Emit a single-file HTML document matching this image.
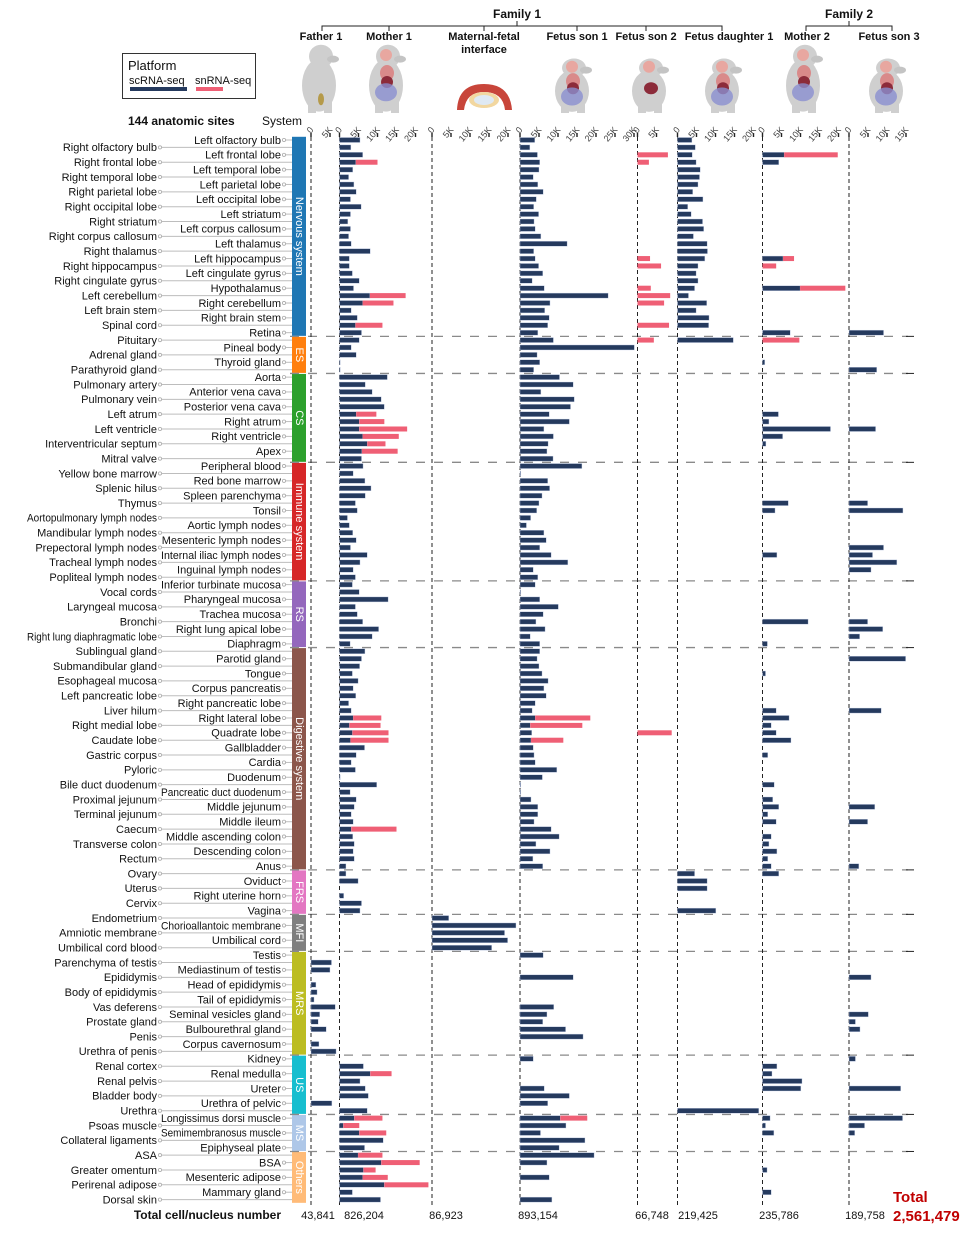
<!DOCTYPE html>
<html><head><meta charset="utf-8">
<style>
html,body{margin:0;padding:0;background:#fff;}
svg{display:block;font-family:"Liberation Sans",Arial,sans-serif;}
</style></head>
<body>
<svg id="chart" width="980" height="1241" viewBox="0 0 980 1241" xmlns="http://www.w3.org/2000/svg">
  <g font-weight="bold" font-size="11" text-anchor="middle" fill="#111">
    <text x="517" y="18" font-size="12">Family 1</text>
    <text x="849" y="18" font-size="12">Family 2</text>
    <path d="M322 31V26H722V31M389 26V31M484 26V31M577 26V31M646 26V31M517 26V21M806 31V26H892V31M849 26V21" fill="none" stroke="#222" stroke-width="1"/>
    <text x="321" y="40">Father 1</text>
    <text x="389" y="40">Mother 1</text>
    <text x="484" y="40">Maternal-fetal</text>
    <text x="484" y="53">interface</text>
    <text x="577" y="40">Fetus son 1</text>
    <text x="646" y="40">Fetus son 2</text>
    <text x="729" y="40">Fetus daughter 1</text>
    <text x="807" y="40">Mother 2</text>
    <text x="889" y="40">Fetus son 3</text>
  </g>
  <g id="animals"></g>
  <g>
    <rect x="122.5" y="53.5" width="133" height="45" fill="#fff" stroke="#333" stroke-width="1"/>
    <text x="128" y="70" font-size="13" fill="#111">Platform</text>
    <text x="129" y="84" font-size="11" fill="#111">scRNA-seq</text>
    <text x="195" y="84" font-size="11" fill="#111">snRNA-seq</text>
    <rect x="130" y="87" width="57" height="4" fill="#253a5e"/>
    <rect x="196" y="87" width="27" height="4" fill="#ef5f75"/>
  </g>
  <text x="128" y="125" font-size="12" font-weight="bold" fill="#111">144 anatomic sites</text>
  <text x="262" y="125" font-size="12" fill="#111">System</text>
  <g id="plot"></g>
  <g>
    <text x="281" y="1219" font-size="12" font-weight="bold" text-anchor="end" fill="#111">Total cell/nucleus number</text>
    <text x="893" y="1202" font-size="15" font-weight="bold" fill="#c00000">Total</text>
    <text x="893" y="1221" font-size="15" font-weight="bold" fill="#c00000">2,561,479</text>
  </g>
</svg>
<script>
const siteNames = ["Left olfactory bulb","Right olfactory bulb","Left frontal lobe","Right frontal lobe","Left temporal lobe","Right temporal lobe","Left parietal lobe","Right parietal lobe","Left occipital lobe","Right occipital lobe","Left striatum","Right striatum","Left corpus callosum","Right corpus callosum","Left thalamus","Right thalamus","Left hippocampus","Right hippocampus","Left cingulate gyrus","Right cingulate gyrus","Hypothalamus","Left cerebellum","Right cerebellum","Left brain stem","Right brain stem","Spinal cord","Retina",
"Pituitary","Pineal body","Adrenal gland","Thyroid gland","Parathyroid gland",
"Aorta","Pulmonary artery","Anterior vena cava","Pulmonary vein","Posterior vena cava","Left atrum","Right atrum","Left ventricle","Right ventricle","Interventricular septum","Apex","Mitral valve",
"Peripheral blood","Yellow bone marrow","Red bone marrow","Splenic hilus","Spleen parenchyma","Thymus","Tonsil","Aortopulmonary lymph nodes","Aortic lymph nodes","Mandibular lymph nodes","Mesenteric lymph nodes","Prepectoral lymph nodes","Internal iliac lymph nodes","Tracheal lymph nodes","Inguinal lymph nodes","Popliteal lymph nodes",
"Inferior turbinate mucosa","Vocal cords","Pharyngeal mucosa","Laryngeal mucosa","Trachea mucosa","Bronchi","Right lung apical lobe","Right lung diaphragmatic lobe","Diaphragm",
"Sublingual gland","Parotid gland","Submandibular gland","Tongue","Esophageal mucosa","Corpus pancreatis","Left pancreatic lobe","Right pancreatic lobe","Liver hilum","Right lateral lobe","Right medial lobe","Quadrate lobe","Caudate lobe","Gallbladder","Gastric corpus","Cardia","Pyloric","Duodenum","Bile duct duodenum","Pancreatic duct duodenum","Proximal jejunum","Middle jejunum","Terminal jejunum","Middle ileum","Caecum","Middle ascending colon","Transverse colon","Descending colon","Rectum","Anus",
"Ovary","Oviduct","Uterus","Right uterine horn","Cervix","Vagina",
"Endometrium","Chorioallantoic membrane","Amniotic membrane","Umbilical cord","Umbilical cord blood",
"Testis","Parenchyma of testis","Mediastinum of testis","Epididymis","Head of epididymis","Body of epididymis","Tail of epididymis","Vas deferens","Seminal vesicles gland","Prostate gland","Bulbourethral gland","Penis","Corpus cavernosum","Urethra of penis",
"Kidney","Renal cortex","Renal medulla","Renal pelvis","Ureter","Bladder body","Urethra of pelvic","Urethra",
"Longissimus dorsi muscle","Psoas muscle","Semimembranosus muscle","Collateral ligaments","Epiphyseal plate",
"ASA","BSA","Greater omentum","Mesenteric adipose","Perirenal adipose","Mammary gland","Dorsal skin"];

const systemNames = ["Nervous system","ES","CS","Immune system","RS","Digestive system","FRS","MFI","MRS","US","MS","Others"];
const systemStarts = [0,27,32,44,60,69,99,105,110,124,132,137];
const systemCounts = [27,5,12,16,9,30,6,5,14,8,5,7];
const systemColors = ["#1f77b4","#ff7f0e","#2ca02c","#d62728","#9467bd","#8c564b","#e377c2","#7f7f7f","#bcbd22","#17becf","#aec7e8","#ffbb78"];

const panelNames = ["Father 1","Mother 1","Maternal-fetal interface","Fetus son 1","Fetus son 2","Fetus daughter 1","Mother 2","Fetus son 3"];
const panelTickMaxK = [5,20,20,30,5,20,20,15];
const panelTotals = ["43,841","826,204","86,923","893,154","66,748","219,425","235,786","189,758"];

// values in thousands of cells/nuclei: [rowIndex, value]
const father1Sc = [[111,5.4],[112,5.0],[114,1.3],[115,1.6],[116,0.8],[117,6.4],[118,2.3],[119,1.9],[120,4.0],[122,2.1],[123,6.6],[130,5.5]];
const father1Sn = [];
const mother1Sc = [[0,5.4],[1,3.0],[2,6.1],[3,4.3],[4,3.5],[5,2.4],[6,3.8],[7,4.4],[8,2.9],[9,5.7],[10,2.9],[11,2.2],[12,2.9],[13,2.4],[14,3.1],[15,8.1],[16,2.6],[17,2.6],[18,3.4],[19,5.2],[20,3.7],[21,8.0],[22,6.1],[23,3.1],[24,4.7],[25,4.2],[26,5.8],
[27,5.2],[28,3.1],[29,4.4],[30,0.2],[31,0.2],
[32,12.6],[33,6.8],[34,8.6],[35,11.0],[36,11.8],[37,4.4],[38,5.2],[39,5.2],[40,6.1],[41,7.3],[42,5.9],[43,5.8],
[44,6.2],[45,3.6],[46,6.7],[47,8.3],[48,6.8],[49,4.2],[50,4.7],[51,2.1],[52,2.6],[53,3.5],[54,4.4],[55,2.9],[56,7.3],[57,5.4],[58,3.6],[59,4.2],
[60,3.4],[61,5.2],[62,12.8],[63,4.2],[64,4.7],[65,6.1],[66,10.3],[67,8.6],[68,2.8],
[69,6.7],[70,5.8],[71,5.3],[72,3.4],[73,4.9],[74,3.6],[75,4.3],[76,2.4],[77,3.1],[78,3.6],[79,2.6],[80,3.4],[81,2.9],[82,6.6],[83,4.4],[84,3.1],[85,4.2],[86,0.2],[87,9.8],[88,2.8],[89,4.4],[90,3.9],[91,3.1],[92,3.6],[93,3.1],[94,3.5],[95,3.9],[96,3.6],[97,3.9],[98,1.7],
[99,1.7],[100,4.9],[102,1.1],[103,5.8],[104,5.4],
[125,6.3],[126,8.1],[127,5.4],[128,6.8],[129,7.6],[131,7.3],
[132,3.9],[133,1.0],[134,5.2],[135,11.5],[136,6.6],
[137,4.9],[138,11.0],[139,6.3],[140,6.1],[141,11.8],[142,3.4],[143,10.8]];
const mother1Sn = [[3,5.7],[21,9.4],[22,8.1],[25,7.1],[37,5.3],[38,6.6],[39,12.6],[40,9.5],[41,4.8],[42,9.4],[78,7.4],[79,8.2],[80,9.5],[81,10.0],[93,11.9],[126,5.6],[132,7.4],[133,4.2],[134,7.1],[137,6.4],[138,10.1],[139,3.2],[140,6.6],[141,11.6]];
const mfiSc = [[105,4.4],[106,22.1],[107,19.1],[108,19.9],[109,15.7]];
const mfiSn = [];
const son1Sc = [[0,3.9],[1,2.6],[2,4.6],[3,5.2],[4,5.0],[5,3.5],[6,4.7],[7,6.1],[8,4.3],[9,3.6],[10,4.9],[11,3.7],[12,4.0],[13,5.5],[14,12.4],[15,3.6],[16,4.0],[17,4.9],[18,6.0],[19,3.2],[20,6.4],[21,23.2],[22,7.9],[23,6.5],[24,7.7],[25,7.3],[26,4.7],
[27,8.8],[28,30.1],[29,4.5],[30,5.2],[31,3.6],
[32,10.4],[33,14.0],[34,5.5],[35,14.3],[36,13.3],[37,7.7],[38,13.0],[39,6.3],[40,8.8],[41,7.4],[42,7.1],[43,8.7],
[44,16.3],[45,0.2],[46,7.3],[47,7.8],[48,5.8],[49,5.0],[50,4.4],[51,2.8],[52,1.7],[53,6.3],[54,6.9],[55,5.2],[56,8.2],[57,12.6],[58,3.5],[59,4.7],
[60,4.0],[61,0.2],[62,5.2],[63,10.1],[64,6.1],[65,4.2],[66,6.6],[67,2.7],[68,5.2],
[69,5.2],[70,4.5],[71,5.0],[72,5.8],[73,7.4],[74,6.3],[75,6.9],[76,4.0],[77,3.2],[78,4.0],[79,2.7],[80,3.1],[81,2.9],[82,3.5],[83,3.7],[84,4.0],[85,9.7],[86,5.9],[87,0.2],[88,0.2],[89,2.9],[90,4.7],[91,4.7],[92,3.7],[93,8.2],[94,10.3],[95,4.2],[96,7.9],[97,3.4],[98,6.0],
[110,6.1],[113,14.0],[117,8.9],[118,7.1],[119,6.0],[120,12.0],[121,16.6],
[124,3.5],[128,6.4],[129,13.0],[130,7.3],
[132,10.6],[133,12.1],[134,5.4],[135,17.1],[136,10.3],
[137,19.5],[138,7.1],[140,7.7],[143,8.4]];
const son1Sn = [[78,14.5],[79,13.7],[81,8.5],[132,7.1]];
const son2Sc = [];
const son2Sn = [[2,8.0],[3,3.0],[16,3.3],[17,6.2],[20,3.5],[21,8.6],[22,7.0],[25,8.3],[27,4.3],[80,9.0]];
const daughter1Sc = [[0,3.8],[1,4.7],[2,3.9],[3,4.9],[4,6.0],[5,5.8],[6,5.4],[7,4.0],[8,6.7],[9,2.7],[10,3.6],[11,6.6],[12,6.9],[13,4.2],[14,7.8],[15,7.9],[16,7.2],[17,5.4],[18,4.9],[19,5.4],[20,4.5],[21,2.9],[22,7.7],[23,4.9],[24,8.3],[25,8.2],[27,14.7],[99,4.5],[100,7.8],[101,7.8],[104,10.1],[131,21.4]];
const daughter1Sn = [];
const mother2Sc = [[2,5.7],[3,4.3],[16,5.4],[20,9.9],[26,7.3],[30,0.6],[37,4.2],[38,1.7],[39,17.9],[40,5.3],[41,0.9],[49,6.8],[50,3.3],[56,3.8],[65,12.0],[68,1.3],[72,0.8],[77,3.6],[78,7.0],[79,2.3],[80,3.6],[81,7.5],[83,1.4],[87,3.1],[89,2.7],[90,4.3],[91,1.4],[92,3.6],[94,2.3],[95,1.7],[96,3.8],[97,1.4],[98,2.3],[99,4.3],[125,3.8],[126,2.5],[127,10.4],[128,10.1],[132,2.0],[133,0.8],[134,3.0],[139,1.2],[142,2.3]];
const mother2Sn = [[2,14.1],[16,2.9],[17,3.6],[20,11.9],[27,9.7]];
const son3Sc = [[26,9.1],[31,7.3],[39,7.0],[49,4.9],[50,14.2],[55,9.1],[56,6.2],[57,12.6],[58,5.8],[65,4.9],[66,8.9],[67,2.8],[70,14.9],[77,8.5],[90,6.8],[92,4.9],[98,2.6],[113,5.8],[118,5.1],[119,1.7],[120,2.9],[124,1.7],[128,13.6],[132,14.1],[133,4.1],[134,1.5]];
const son3Sn = [];

const scSeries = [father1Sc,mother1Sc,mfiSc,son1Sc,son2Sc,daughter1Sc,mother2Sc,son3Sc];
const snSeries = [father1Sn,mother1Sn,mfiSn,son1Sn,son2Sn,daughter1Sn,mother2Sn,son3Sn];

// layout (not data)
const NS = "http://www.w3.org/2000/svg";
const panelZeroX = [311,339.5,432,520,637.5,677.5,762.5,849];
const totalX = [318,364,446,538,652,698,779,865];
const PX_PER_K = 3.8;
const ROW0 = 140, ROW_STEP = 7.41;
function rowY(i){ return ROW0 + i*ROW_STEP; }
function xScale(p, v){ return panelZeroX[p] + v*PX_PER_K; }
function mk(tag, attrs, parent){ const e=document.createElementNS(NS,tag); for(const k in attrs) e.setAttribute(k,attrs[k]); parent.appendChild(e); return e; }
const plot = document.getElementById('plot');

// system bars & separators
for(let s=0;s<systemNames.length;s++){
  const y0 = rowY(systemStarts[s]) - ROW_STEP/2 + 0.5;
  const y1 = rowY(systemStarts[s]+systemCounts[s]-1) + ROW_STEP/2 - 0.5;
  const r = mk('rect',{x:292,y:y0,width:14,height:y1-y0,fill:systemColors[s]},plot);
  
  
  const cy=(y0+y1)/2;
  const t = mk('text',{x:299,y:cy,fill:'#fff','font-size':11,'text-anchor':'middle','dominant-baseline':'central',transform:`rotate(90 299 ${cy})`},plot);
  t.textContent = systemNames[s];
  
  
  if(s>0){
    const ys = rowY(systemStarts[s]) - ROW_STEP/2;
    const l = mk('line',{x1:290,x2:908,y1:ys,y2:ys,stroke:'#8a8a8a','stroke-width':1.3,'stroke-dasharray':'9,9'},plot);
    
    
    const k = mk('line',{x1:906,x2:914,y1:ys,y2:ys,stroke:'#222','stroke-width':1},plot);
    
    
  }
}

// site labels
for(let i=0;i<siteNames.length;i++){
  const y=rowY(i);
  const left = (i%2===1);
  const tx = left?157:281;
  const ln = mk('line',{x1:left?162:285,x2:292,y1:y,y2:y,stroke:'#bdbdbd','stroke-width':1},plot);
  
  
  const c = mk('circle',{cx:left?160:284,cy:y,r:1.6,fill:'#fff',stroke:'#aaa','stroke-width':0.8},plot);
  
  
  const t = mk('text',{x:tx,y:y+3.8,'font-size':11,'text-anchor':'end',fill:'#111'},plot);
  t.textContent = siteNames[i];
  
  
  const limit = left?130:120;
  try{
    const w = t.getComputedTextLength();
    if(w>limit){ t.setAttribute('textLength', limit); t.setAttribute('lengthAdjust','spacingAndGlyphs'); }
  }catch(e){}
}

// axes
for(let p=0;p<panelNames.length;p++){
  const z=panelZeroX[p];
  const dl = mk('line',{x1:z,x2:z,y1:137,y2:1205,stroke:'#222','stroke-width':1,'stroke-dasharray':'4,3'},plot);
  
  
  for(let k=0;k<=panelTickMaxK[p];k+=5){
    const x=xScale(p,k);
    const tk = mk('line',{x1:x,x2:x,y1:133,y2:137,stroke:'#222','stroke-width':1.4},plot);
    
    
    const tl = mk('text',{x:x+3,y:130,'font-size':9,fill:'#444','text-anchor':'end',transform:`rotate(-50 ${x+3} 130)`},plot);
    tl.textContent = k===0?'0':k+'K';
    
    
  }
  const tt = mk('text',{x:totalX[p],y:1219,'font-size':11,'text-anchor':'middle',fill:'#111'},plot);
  tt.textContent = panelTotals[p];
  
  
}

// bars
const scMap = scSeries.map(a=>{const m={}; a.forEach(([i,v])=>m[i]=v); return m;});
for(let p=0;p<panelNames.length;p++){
  scSeries[p].forEach(([i,v])=>{
    const b = mk('rect',{x:xScale(p,0),y:rowY(i)-2.5,width:Math.max(0.8,v*PX_PER_K),height:5,fill:'#253a5e',stroke:'#c9d3ea','stroke-width':0.4},plot);
    
    
  });
  snSeries[p].forEach(([i,v])=>{
    const base = scMap[p][i]||0;
    const b = mk('rect',{x:xScale(p,base),y:rowY(i)-2.5,width:v*PX_PER_K,height:5,fill:'#ef5f75'},plot);
    
    
  });
}

// animal silhouettes (decorative)
const animals = document.getElementById('animals');
const animalCx = [321,388,0,574,651,724,805,888];
const animalTop = [44,44,0,58,58,58,44,58];
const organColors = [null,true,null,true,'heart',true,true,true];
for(let p=0;p<8;p++){
  if(p===2) continue;
  const cx=animalCx[p], top=animalTop[p], h=113-top;
  const g = mk('g',{},animals);
  
  
  mk('ellipse',{cx:cx-2,cy:top+h*0.6,rx:17,ry:h*0.38,fill:'#cfcfcf'},g);
  mk('ellipse',{cx:cx,cy:top+h*0.18,rx:12,ry:h*0.17,fill:'#cfcfcf'},g);
  mk('ellipse',{cx:cx+12,cy:top+h*0.22,rx:6,ry:3.5,fill:'#c4c4c4'},g);
  mk('rect',{x:cx-13,y:top+h*0.82,width:8,height:h*0.18,fill:'#cfcfcf'},g);
  mk('rect',{x:cx+3,y:top+h*0.82,width:8,height:h*0.18,fill:'#cfcfcf'},g);
  if(organColors[p]===true){
    mk('circle',{cx:cx-2,cy:top+h*0.16,r:6,fill:'#e8a7a0'},g);
    mk('ellipse',{cx:cx-1,cy:top+h*0.42,rx:7,ry:8,fill:'#d98a8a'},g);
    mk('ellipse',{cx:cx-1,cy:top+h*0.55,rx:6,ry:6,fill:'#8c2b3a'},g);
    mk('ellipse',{cx:cx-2,cy:top+h*0.7,rx:11,ry:9,fill:'#8a8fd0',opacity:0.8},g);
  } else if(organColors[p]==='heart'){
    mk('circle',{cx:cx-2,cy:top+h*0.16,r:6,fill:'#e8a7a0'},g);
    mk('ellipse',{cx:cx,cy:top+h*0.55,rx:7,ry:6,fill:'#8c2b3a'},g);
  } else {
    mk('ellipse',{cx:cx,cy:top+h*0.8,rx:3,ry:6,fill:'#b59a4a'},g);
  }
}
const pl = mk('g',{},animals);


mk('path',{d:'M457 110 Q458 84 484 84 Q510 84 512 110 L505 110 Q503 92 484 92 Q466 92 464 110 Z',fill:'#c8453a'},pl);
mk('ellipse',{cx:484,cy:100,rx:15,ry:8,fill:'#f2d7a0'},pl);
mk('ellipse',{cx:484,cy:100,rx:10,ry:5,fill:'#dfe9f3'},pl);
</script>
</body></html>
